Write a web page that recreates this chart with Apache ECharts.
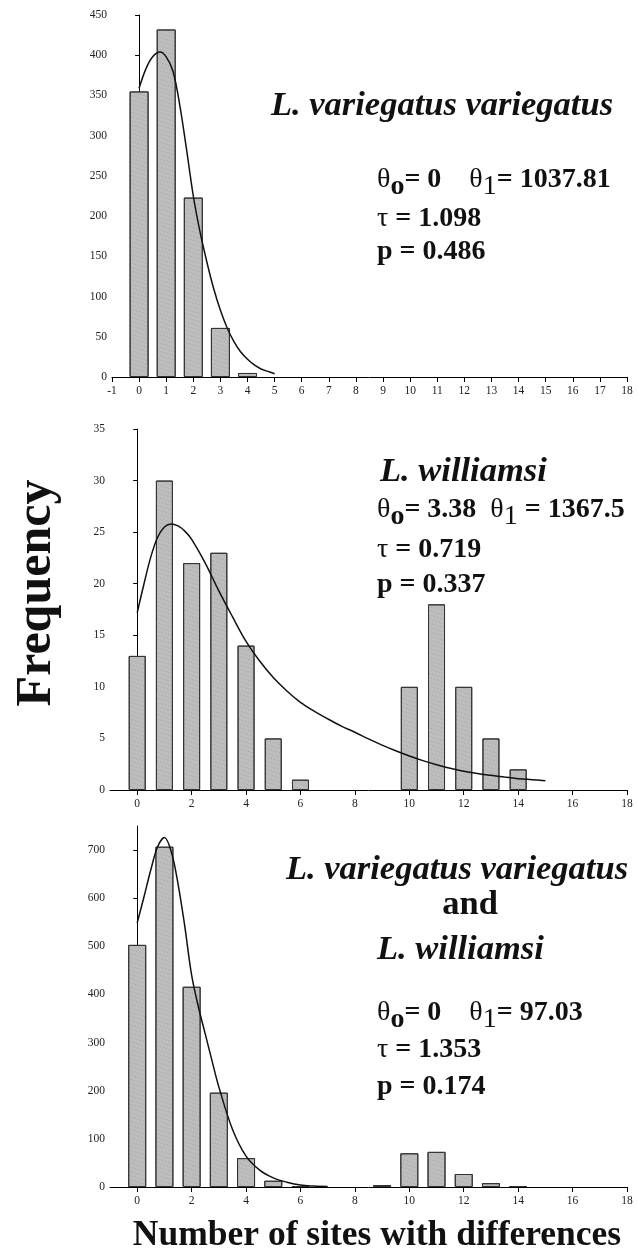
<!DOCTYPE html>
<html>
<head>
<meta charset="utf-8">
<script src="https://cdn.jsdelivr.net/npm/echarts@6/dist/echarts.min.js"></script>
<style>
html,body{margin:0;padding:0;background:#fff;}
#c{width:638px;height:1255px;}
</style>
</head>
<body>
<div id="c"></div>
<script>
// ---- tick labels ----
const xTicksTop = [-1,0,1,2,3,4,5,6,7,8,9,10,11,12,13,14,15,16,17,18];
const xTicksLower = [0,2,4,6,8,10,12,14,16,18];
const yTicksTop = [0,50,100,150,200,250,300,350,400,450];
const yTicksMid = [0,5,10,15,20,25,30,35];
const yTicksBot = [0,100,200,300,400,500,600,700];

// ---- panel 1: L. variegatus variegatus ----
const topBarX = [0,1,2,3,4];
const topBarY = [355,432,223,61,5];
const topCurveX = [0,0.25,0.5,0.77,1,1.25,1.5,1.75,2,2.25,2.5,2.75,3,3.25,3.5,3.75,4,4.25,4.5,4.75,5];
const topCurveY = [359,383,398,404,398,380,338,283,225,180,143,110,83,61,44,31,22,15,10,7,4];

// ---- panel 2: L. williamsi ----
const midBarX = [0,1,2,3,4,5,6,10,11,12,13,14];
const midBarY = [13,30,22,23,14,5,1,10,18,10,5,2];
const midCurveX = [0,0.25,0.5,0.75,1,1.25,1.5,1.75,2,2.5,3,3.5,4,4.5,5,5.5,6,6.5,7,7.5,8,8.5,9,9.5,10,10.5,11,11.5,12,12.5,13,13.5,14,14.5,15];
const midCurveY = [17.2,20,22.6,24.5,25.5,25.8,25.6,25.1,24.3,22,19.3,16.8,14.4,12.5,10.9,9.6,8.5,7.65,6.9,6.2,5.6,4.95,4.35,3.8,3.3,2.85,2.45,2.1,1.82,1.6,1.42,1.25,1.1,1.0,0.9];

// ---- panel 3: combined ----
const botBarX = [0,1,2,3,4,5,6,9,10,11,12,13,14];
const botBarY = [503,707,416,196,60,13,2,4,70,73,27,8,2];
const botCurveX = [0,0.25,0.5,0.75,1,1.25,1.5,1.75,2,2.25,2.5,2.75,3,3.5,4,4.5,5,5.5,6,6.5,7];
const botCurveY = [549,603,659,707,726,697,630,541,440,374,318,262,208,120,64,35,19,10,4,2,1];

const pairs = (xs, ys) => xs.map((x, i) => [x, ys[i]]);

const serif = 'Liberation Serif';
const axisFont = {fontFamily: serif, fontSize: 11.5, color: '#222'};

function xAxis(gi, ticks) {
  return {
    type: 'value', gridIndex: gi, min: -1, max: 18, interval: 1,
    axisLine: {show: true, onZero: false, lineStyle: {color: '#000', width: 1}},
    axisTick: {show: true, length: 5, lineStyle: {color: '#000'}, customValues: ticks},
    axisLabel: Object.assign({margin: 8, customValues: ticks}, axisFont),
    splitLine: {show: false}
  };
}
function yAxis(gi, max, interval, ticks) {
  return {
    type: 'value', gridIndex: gi, min: 0, max: max, interval: interval,
    axisLine: {show: true, lineStyle: {color: '#000', width: 1}},
    axisTick: {show: true, length: 4, lineStyle: {color: '#000'}, customValues: ticks},
    axisLabel: Object.assign({margin: 5, customValues: ticks}, axisFont),
    splitLine: {show: false}
  };
}
const barStyle = {
  color: '#bdbdbd', borderColor: '#333', borderWidth: 1,
  decal: {symbol: 'rect', symbolSize: 1, color: 'rgba(70,70,70,0.22)', dashArrayX: [1, 2], dashArrayY: [1, 3], rotation: 0.3}
};
function bars(gi, xs, ys, w) {
  return {type: 'bar', xAxisIndex: gi, yAxisIndex: gi, data: pairs(xs, ys), barWidth: w,
    itemStyle: barStyle, silent: true, animation: false};
}
function curve(gi, xs, ys) {
  return {type: 'line', xAxisIndex: gi, yAxisIndex: gi, data: pairs(xs, ys), smooth: 0.35,
    showSymbol: false, symbol: 'none', lineStyle: {color: '#111', width: 1.5}, z: 5, animation: false};
}

// rich text for statistics lines
const FS = 28;
const statRich = {
  b: {fontFamily: serif, fontWeight: 'bold', fontSize: FS, lineHeight: 42, fill: '#111'},
  th: {fontFamily: serif, fontWeight: 'normal', fontSize: FS, lineHeight: 42, fill: '#111'},
  o: {fontFamily: serif, fontWeight: 'bold', fontSize: FS, lineHeight: 16, verticalAlign: 'bottom', fill: '#111'},
  one: {fontFamily: serif, fontWeight: 'normal', fontSize: FS, lineHeight: 28, verticalAlign: 'bottom', fill: '#111'}
};
function stat(x, y, text) {
  return {type: 'text', x: x, y: y, style: {text: text, rich: statRich, textAlign: 'left', textVerticalAlign: 'middle'}};
}
function title(x, y, text, align, italic) {
  return {type: 'text', x: x, y: y, style: {text: text, fontFamily: serif, fontWeight: 'bold',
    fontStyle: italic ? 'italic' : 'normal', fontSize: 34.5, fill: '#111',
    textAlign: align, textVerticalAlign: 'middle'}};
}

const chart = echarts.init(document.getElementById('c'), null, {renderer: 'canvas'});
chart.setOption({
  backgroundColor: '#fff',
  animation: false,
  grid: [
    {left: 112, top: 15, width: 515, height: 362},
    {left: 110, top: 429, width: 517, height: 361},
    {left: 110, top: 826, width: 517, height: 361}
  ],
  xAxis: [xAxis(0, xTicksTop), xAxis(1, xTicksLower), xAxis(2, xTicksLower)],
  yAxis: [yAxis(0, 450, 50, yTicksTop), yAxis(1, 35, 5, yTicksMid), yAxis(2, 750, 50, yTicksBot)],
  series: [
    bars(0, topBarX, topBarY, 19), curve(0, topCurveX, topCurveY),
    bars(1, midBarX, midBarY, 17), curve(1, midCurveX, midCurveY),
    bars(2, botBarX, botBarY, 18), curve(2, botCurveX, botCurveY)
  ],
  graphic: [
    title(442, 106, 'L. variegatus variegatus', 'center', true),
    stat(377, 180, '{th|θ}{o|o}{b|= 0    }{th|θ}{one|1}{b|= 1037.81}'),
    stat(377, 219, '{th|τ}{b| = 1.098}'),
    stat(377, 252, '{b|p = 0.486}'),

    title(380, 472, 'L. williamsi', 'left', true),
    stat(377, 510, '{th|θ}{o|o}{b|= 3.38  }{th|θ}{one|1}{b| = 1367.5}'),
    stat(377, 550, '{th|τ}{b| = 0.719}'),
    stat(377, 585, '{b|p = 0.337}'),

    title(457, 870, 'L. variegatus variegatus', 'center', true),
    title(470, 905, 'and', 'center', false),
    title(377, 950, 'L. williamsi', 'left', true),
    stat(377, 1013, '{th|θ}{o|o}{b|= 0    }{th|θ}{one|1}{b|= 97.03}'),
    stat(377, 1050, '{th|τ}{b| = 1.353}'),
    stat(377, 1087, '{b|p = 0.174}'),

    {type: 'text', x: 37, y: 593, rotation: Math.PI / 2,
      style: {text: 'Frequency', fontFamily: serif, fontWeight: 'bold', fontSize: 50, fill: '#111',
        textAlign: 'center', textVerticalAlign: 'middle'}},
    {type: 'text', x: 377, y: 1236,
      style: {text: 'Number of sites with differences', fontFamily: serif, fontWeight: 'bold', fontSize: 35.5, fill: '#111',
        textAlign: 'center', textVerticalAlign: 'middle'}}
  ]
});
</script>
</body>
</html>
